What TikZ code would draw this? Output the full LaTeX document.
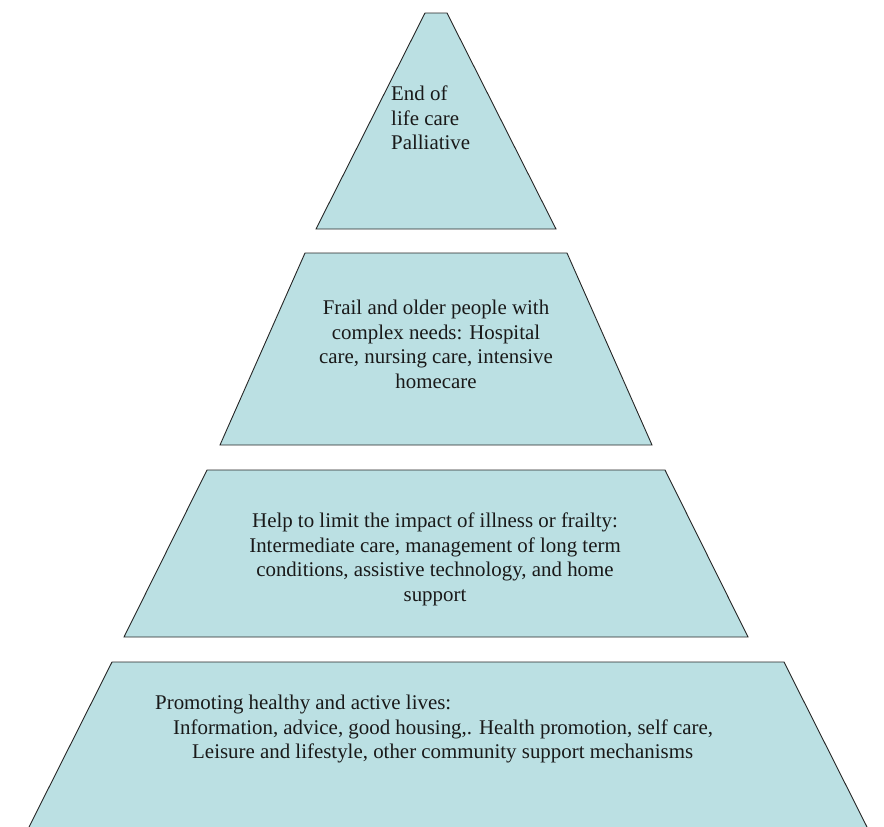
\documentclass[tikz,border=0pt]{standalone}
\usepackage{fontspec}
\setmainfont{Liberation Serif}
\definecolor{tierblue}{RGB}{187,224,227}
\tikzset{
  tier/.style={fill=tierblue, draw=black!85, line width=0.9pt, line join=miter},
  tiertext/.style={inner sep=0pt, text=black!90, font=\fontsize{20.9}{24.5}\selectfont}
}
\begin{document}
\begin{tikzpicture}[x=1pt,y=-1pt]
  \useasboundingbox (0,0) rectangle (884,827);
  % tiers, top to bottom
  \draw[tier] (425,13) -- (447,13) -- (556,229) -- (316,229) -- cycle;
  \draw[tier] (305,253) -- (567,253) -- (652,445) -- (220,445) -- cycle;
  \draw[tier] (207,470) -- (665,470) -- (748,637) -- (124,637) -- cycle;
  \draw[tier] (29,827) -- (112,662) -- (784,662) -- (867,827);
  % labels
  \node[tiertext, anchor=north west, align=left] (endlife) at (391,86)
    {End of\\life care\\Palliative};
  \node[tiertext, anchor=north, align=center] (frail) at (436,300)
    {Frail and older people with\\complex needs: Hospital\\care, nursing care, intensive\\homecare};
  \node[tiertext, anchor=north, align=center] (limit) at (435,513)
    {Help to limit the impact of illness or frailty:\\Intermediate care, management of long term\\conditions, assistive technology, and home\\support};
  \node[tiertext, anchor=north west, align=left] (promote) at (155,695)
    {Promoting healthy and active lives:\\
     \hspace*{18pt}Information, advice, good housing,. Health promotion, self care,\\
     \hspace*{37pt}Leisure and lifestyle, other community support mechanisms};
\end{tikzpicture}
\end{document}
